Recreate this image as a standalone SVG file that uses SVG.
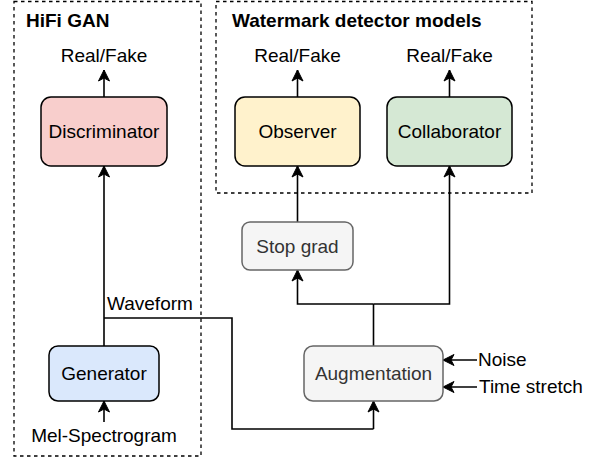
<svg xmlns="http://www.w3.org/2000/svg" width="600" height="459" viewBox="0 0 600 459">
<defs>
<marker id="arr" markerUnits="userSpaceOnUse" markerWidth="14" markerHeight="14" viewBox="-12 -7 14 14" refX="0" refY="0" orient="auto">
<path d="M0,0 L-11,-5.5 L-8,0 L-11,5.5 Z" fill="#000" stroke="#000" stroke-width="1"/>
</marker>
</defs>
<style>
text{font-family:"Liberation Sans",Arial,sans-serif;font-size:19px;fill:#000}
.t{font-weight:bold}
.c{text-anchor:middle}
.g{fill:#333}
.grp{fill:none;stroke:#000;stroke-width:1.3;stroke-dasharray:3.5,3.5}
.n{stroke:#000;stroke-width:1.5}
.ng{stroke:#666;stroke-width:1.5;fill:#f5f5f5}
.e{fill:none;stroke:#000;stroke-width:1.6}
.a{marker-end:url(#arr)}
</style>
<g id="hifigan">
<rect class="grp" x="14" y="1.5" width="187" height="454.5"/>
<text class="t" x="26" y="27">HiFi GAN</text>
</g>
<g id="watermark">
<rect class="grp" x="216" y="1.5" width="316" height="191.5"/>
<text class="t" x="232" y="27">Watermark detector models</text>
</g>
<g id="connectors">
<path class="e a" d="M104,97 V70"/>
<path class="e a" d="M297.5,97 V70"/>
<path class="e a" d="M449.5,97 V70"/>
<path class="e a" d="M104,346 V166"/>
<path class="e" d="M104,318 H232 V429 H373.5"/>
<path class="e a" d="M373.5,429 V401"/>
<path class="e" d="M373.5,346 V304"/>
<path class="e a" d="M373.5,304 H297.5 V270"/>
<path class="e a" d="M373.5,304 H449.5 V166"/>
<path class="e a" d="M297.5,222 V166"/>
<path class="e a" d="M477,360 H443"/>
<path class="e a" d="M477,387 H443"/>
<path class="e a" d="M104,422 V401"/>
</g>
<g id="discriminator">
<rect class="n" x="41" y="97" width="126" height="69" rx="10" fill="#f8cecc"/>
<text class="c" x="104" y="138">Discriminator</text>
</g>
<g id="observer">
<rect class="n" x="235" y="97" width="125" height="69" rx="10" fill="#fff2cc"/>
<text class="c" x="297.5" y="138">Observer</text>
</g>
<g id="collaborator">
<rect class="n" x="387" y="97" width="125" height="69" rx="10" fill="#d5e8d4"/>
<text class="c" x="449.5" y="138">Collaborator</text>
</g>
<g id="stopgrad">
<rect class="ng" x="242" y="222" width="111" height="48" rx="8"/>
<text class="c g" x="297.5" y="253">Stop grad</text>
</g>
<g id="augmentation">
<rect class="ng" x="304" y="346" width="139" height="55" rx="9"/>
<text class="c g" x="373.5" y="380">Augmentation</text>
</g>
<g id="generator">
<rect class="n" x="49" y="346" width="110" height="55" rx="9" fill="#dae8fc"/>
<text class="c" x="104" y="380">Generator</text>
</g>
<g id="labels">
<text class="c" x="104" y="62">Real/Fake</text>
<text class="c" x="297.5" y="62">Real/Fake</text>
<text class="c" x="449.5" y="62">Real/Fake</text>
<text x="107" y="310">Waveform</text>
<text x="478" y="366">Noise</text>
<text x="479" y="393">Time stretch</text>
<text class="c" x="104" y="442">Mel-Spectrogram</text>
</g>
</svg>
